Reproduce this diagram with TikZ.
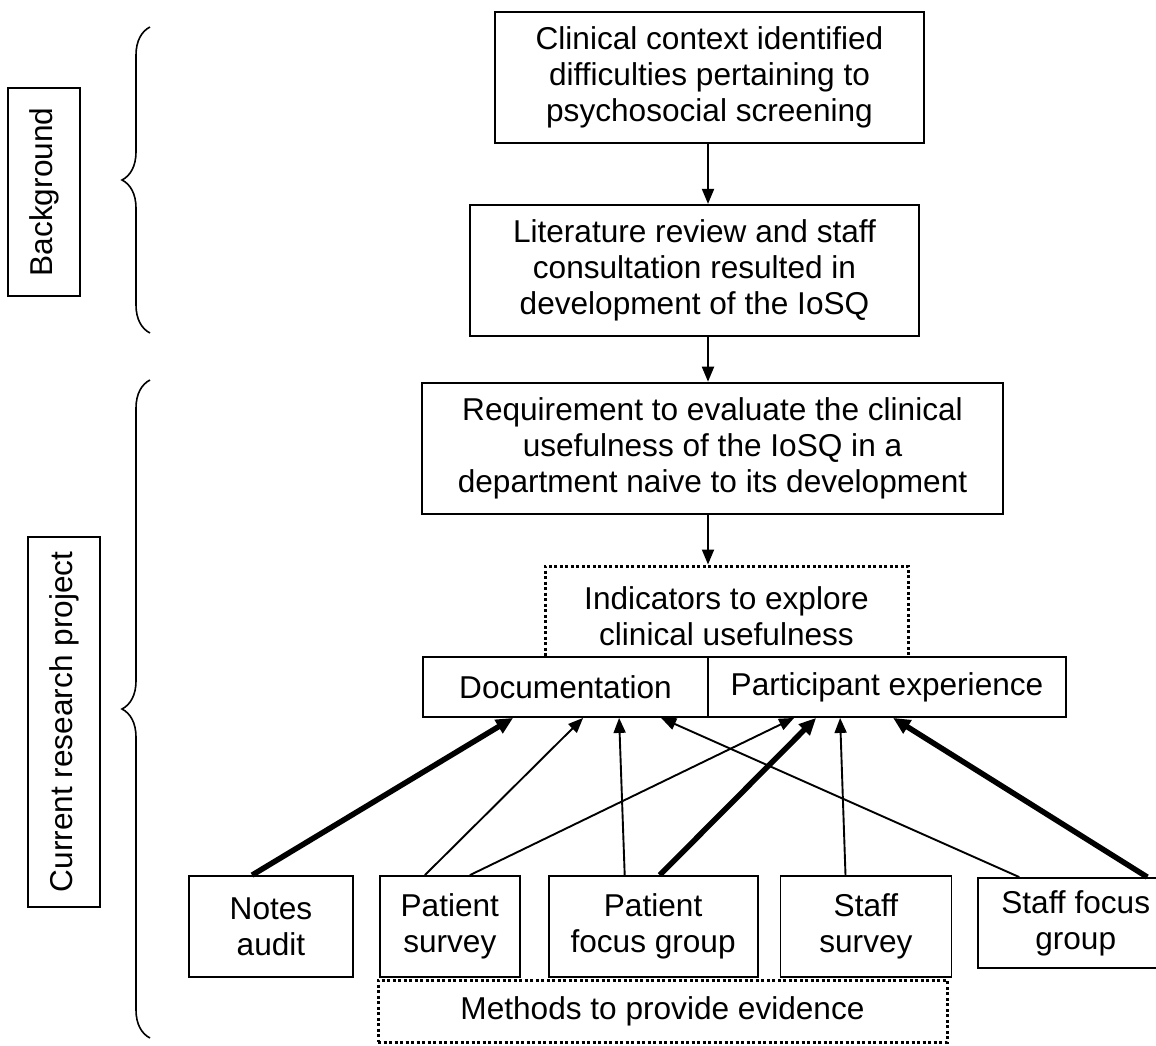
\documentclass[tikz,border=0pt]{standalone}
\usepackage{fontspec}
\setmainfont{Liberation Sans}
\usetikzlibrary{positioning,arrows.meta,decorations.pathreplacing}

\begin{document}
\begin{tikzpicture}[x=1pt, y=-1pt, >={Triangle[length=15pt,width=12pt]}, every node/.style={font=\fontsize{31.6}{36}\selectfont}]
\tikzstyle{block}=[rectangle, draw, line width=1.8pt, fill=white, align=center, inner sep=0pt]
\tikzstyle{dotbox}=[block, line width=3pt, dash pattern=on 3pt off 2.5pt]
\tikzstyle{sidebox}=[block, rotate=90, minimum height=72pt]
\tikzstyle{sidebrace}=[decorate, decoration={brace, amplitude=28pt}, line width=1.6pt]
\tikzstyle{lightarrow}=[->, line width=1.9pt]
\tikzstyle{heavyarrow}=[-{Triangle[length=17pt,width=15pt]}, line width=5.5pt]
\useasboundingbox (0,0) rectangle (1156,1045);
\clip (0,0) rectangle (1156,1045);
% side labels and braces
\node[sidebox, minimum width=208pt] (bg) at (44,192) {Background};
\node[sidebox, minimum width=370pt] (current) at (64,722) {Current research project};
\draw[sidebrace] (150,333) -- (150,27);
\draw[sidebrace] (150,1038) -- (150,380);
% main column
\node[block, minimum width=429pt, minimum height=131pt] (context) at (709.5,77.5) {Clinical context identified\\difficulties pertaining to\\psychosocial screening};
\node[block, minimum width=449pt, minimum height=131pt, below=60pt of context, xshift=-15pt] (review) {Literature review and staff\\consultation resulted in\\development of the IoSQ};
\node[block, minimum width=581pt, minimum height=131pt, below=45pt of review, xshift=18pt] (requirement) {Requirement to evaluate the clinical\\usefulness of the IoSQ in a\\department naive to its development};
\node[dotbox, minimum width=363pt, minimum height=100pt, below=50pt of requirement, xshift=14pt] (indicators) {Indicators to explore\\clinical usefulness};
\node[block, minimum width=285pt, minimum height=60pt] (doc) at (565.5,687) {Documentation};
\node[block, minimum width=358pt, minimum height=60pt, right=-1.8pt of doc] (exp) {Participant experience};
% methods
\node[block, minimum width=164pt, minimum height=101pt] (notes) at (271,926.5) {Notes\\audit};
\node[block, minimum width=140pt, minimum height=101pt, right=25pt of notes] (psurvey) {Patient\\survey};
\node[block, minimum width=209pt, minimum height=101pt, right=27pt of psurvey] (pfocus) {Patient\\focus group};
\node[block, minimum width=171pt, minimum height=101pt, right=21pt of pfocus] (ssurvey) {Staff\\survey};
\node[block, minimum width=195pt, minimum height=90pt, right=25pt of ssurvey, yshift=3.5pt] (sfocus) {Staff focus\\group};
\node[dotbox, minimum width=569pt, minimum height=62pt] (methods) at (662.5,1011) {Methods to provide evidence};
% flow
\coordinate (spine) at (708,0);
\draw[lightarrow] (context.south -| spine) -- (review.north -| spine);
\draw[lightarrow] (review.south -| spine) -- (requirement.north -| spine);
\draw[lightarrow] (requirement.south -| spine) -- (indicators.north -| spine);
\draw[heavyarrow] ([xshift=64pt]notes.north west) -- ([xshift=91pt]doc.south west);
\draw[lightarrow] ([xshift=46pt]psurvey.north west) -- ([xshift=161pt]doc.south west);
\draw[lightarrow] ([xshift=91pt]psurvey.north west) -- ([xshift=87pt]exp.south west);
\draw[lightarrow] ([xshift=77pt]pfocus.north west) -- ([xshift=197pt]doc.south west);
\draw[heavyarrow] ([xshift=112pt]pfocus.north west) -- ([xshift=109pt]exp.south west);
\draw[lightarrow] ([xshift=66pt]ssurvey.north west) -- ([xshift=133pt]exp.south west);
\draw[lightarrow] ([xshift=42pt]sfocus.north west) -- ([xshift=239pt]doc.south west);
\draw[heavyarrow] ([xshift=170pt]sfocus.north west) -- ([xshift=186pt]exp.south west);
\end{tikzpicture}
\end{document}
